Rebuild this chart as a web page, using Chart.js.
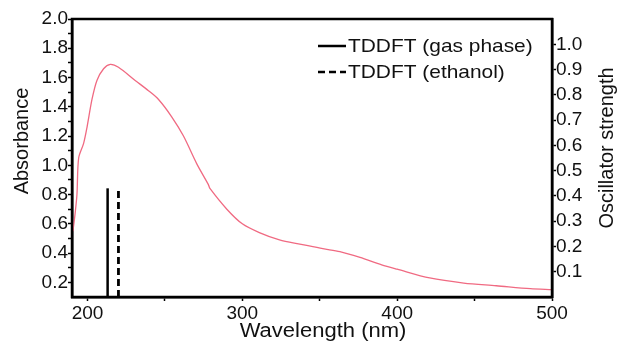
<!DOCTYPE html>
<html>
<head>
<meta charset="utf-8">
<script src="https://cdn.jsdelivr.net/npm/chart.js@4.4.1/dist/chart.umd.min.js"></script>
<style>
  body { margin: 0; background: #fff; }
  #wrap { width: 618px; height: 341px; }
</style>
</head>
<body>
<div id="wrap"><canvas id="specChart" width="618" height="341"></canvas></div>
<script>
const wavelengths = [190.6, 192, 193.2, 194.3, 197.5, 199.7, 202.9, 206.1, 210.4, 214.7, 220, 230.8, 239.4, 245.9, 254.5, 262, 270.6, 278, 279.2, 290, 300, 311, 324, 338, 352, 363, 376, 390, 400, 421, 443, 464, 486, 500];
const absorbance  = [0.55, 0.67, 0.80, 1.05, 1.15, 1.26, 1.45, 1.58, 1.66, 1.69, 1.67, 1.58, 1.51, 1.45, 1.33, 1.20, 1.01, 0.87, 0.84, 0.70, 0.60, 0.54, 0.49, 0.46, 0.43, 0.41, 0.37, 0.32, 0.29, 0.23, 0.195, 0.177, 0.157, 0.15];

// TDDFT transitions
const tdLabels = ['TDDFT (gas phase)', 'TDDFT (ethanol)'];
const tdWavelengths = [213, 220];
const tdStrengths = [0.43, 0.42];

const xTicks = [200, 250, 300, 350, 400, 450, 500];
const yTicks = [0.2, 0.3, 0.4, 0.5, 0.6, 0.7, 0.8, 0.9, 1.0, 1.1, 1.2, 1.3, 1.4, 1.5, 1.6, 1.7, 1.8, 1.9, 2.0];
const y2Ticks = [0.1, 0.2, 0.3, 0.4, 0.5, 0.6, 0.7, 0.8, 0.9, 1.0];

Chart.defaults.font.family = "'Liberation Sans', Arial, sans-serif";
Chart.defaults.font.size = 19;
Chart.defaults.color = '#111';

const specData = wavelengths.map((w, i) => ({ x: w, y: absorbance[i] }));

// text drawn a little wider, like the original figure
function wideText(ctx, txt, x, y, sx) {
  ctx.save();
  ctx.translate(x, y);
  ctx.scale(sx, 1);
  ctx.fillText(txt, 0, 0);
  ctx.restore();
}

// frame, axis titles and legend
const decorations = {
  id: 'decorations',
  afterDraw(chart) {
    const { ctx, chartArea: a } = chart;
    ctx.save();
    ctx.strokeStyle = '#000';
    ctx.lineWidth = 2.5;
    ctx.strokeRect(a.left, a.top, a.right - a.left, a.bottom - a.top);

    ctx.fillStyle = '#111';
    ctx.font = "20px 'Liberation Sans', Arial, sans-serif";
    ctx.textAlign = 'center';
    ctx.textBaseline = 'middle';
    wideText(ctx, 'Wavelength (nm)', 323, 331, 1.1);
    ctx.save();
    ctx.translate(22, 141);
    ctx.rotate(-Math.PI / 2);
    ctx.fillText('Absorbance', 0, 0);
    ctx.restore();
    ctx.save();
    ctx.translate(607, 148);
    ctx.rotate(-Math.PI / 2);
    ctx.fillText('Oscillator strength', 0, 0);
    ctx.restore();

    // legend
    ctx.font = "19px 'Liberation Sans', Arial, sans-serif";
    ctx.textAlign = 'left';
    const rows = [46, 72];
    [1, 2].forEach((di, k) => {
      const ds = chart.data.datasets[di];
      ctx.strokeStyle = ds.borderColor;
      ctx.lineWidth = 2.5;
      ctx.setLineDash(ds.borderDash || []);
      ctx.beginPath();
      ctx.moveTo(318, rows[k]);
      ctx.lineTo(346, rows[k]);
      ctx.stroke();
      ctx.setLineDash([]);
      wideText(ctx, ds.label, 348, rows[k] + 1, 1.1);
    });
    ctx.restore();
  }
};

const chart = new Chart(document.getElementById('specChart').getContext('2d'), {
  type: 'line',
  data: {
    datasets: [
      {
        label: 'Absorbance',
        data: specData,
        yAxisID: 'y',
        borderColor: '#f06a82',
        borderWidth: 1.3,
        pointRadius: 0,
        tension: 0.3
      },
      {
        label: tdLabels[0],
        data: [{ x: tdWavelengths[0], y: 0 }, { x: tdWavelengths[0], y: tdStrengths[0] }],
        yAxisID: 'y2',
        borderColor: '#000',
        borderWidth: 2.5,
        pointRadius: 0
      },
      {
        label: tdLabels[1],
        data: [{ x: tdWavelengths[1], y: 0 }, { x: tdWavelengths[1], y: tdStrengths[1] }],
        yAxisID: 'y2',
        borderColor: '#000',
        borderWidth: 2.8,
        borderDash: [7, 4],
        pointRadius: 0
      }
    ]
  },
  options: {
    responsive: false,
    animation: false,
    layout: { padding: { top: 19, left: 0, right: 0, bottom: 0 } },
    plugins: { legend: { display: false }, tooltip: { enabled: false } },
    scales: {
      x: {
        type: 'linear',
        min: 190,
        max: 500,
        afterBuildTicks: s => { s.ticks = xTicks.map(v => ({ value: v })); },
        afterFit: s => { s.height = 44; },
        grid: { drawOnChartArea: false, tickLength: 4, color: '#000', tickWidth: 1.5 },
        border: { color: '#000', width: 2.5 },
        ticks: {
          padding: 1,
          maxRotation: 0,
          autoSkip: false,
          callback: v => (v % 100 === 0 ? String(v) : '')
        }
      },
      y: {
        position: 'left',
        min: 0.1,
        max: 2.0,
        afterBuildTicks: s => { s.ticks = yTicks.map(v => ({ value: v })); },
        afterFit: s => { s.width = 72; },
        grid: { drawOnChartArea: false, tickLength: 4, color: '#000', tickWidth: 1.5 },
        border: { color: '#000', width: 2.5 },
        ticks: {
          padding: 0,
          autoSkip: false,
          callback: v => (Math.round(v * 10) % 2 === 0 ? v.toFixed(1) : '')
        }
      },
      y2: {
        position: 'right',
        min: 0,
        max: 1.1,
        afterBuildTicks: s => { s.ticks = y2Ticks.map(v => ({ value: v })); },
        afterFit: s => { s.width = 66; },
        grid: { drawOnChartArea: false, tickLength: 4, color: '#000', tickWidth: 1.5 },
        border: { color: '#000', width: 2.5 },
        ticks: {
          padding: 0,
          autoSkip: false,
          callback: v => v.toFixed(1)
        }
      }
    }
  },
  plugins: [decorations]
});
</script>
</body>
</html>
